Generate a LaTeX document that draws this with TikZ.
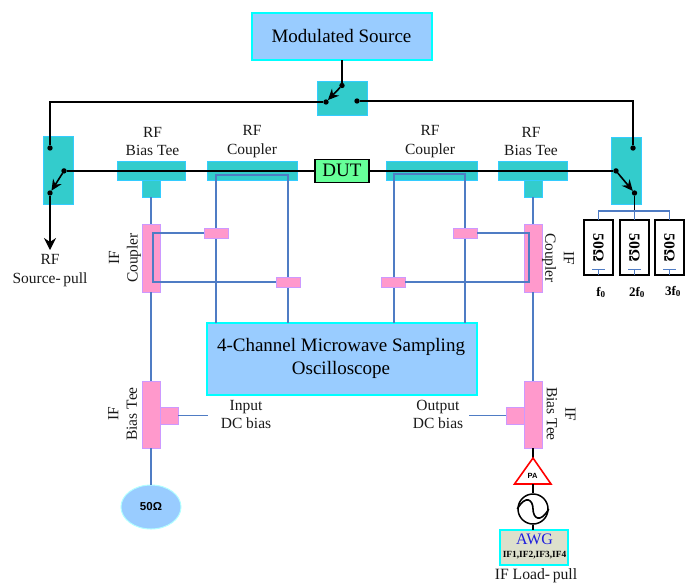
\documentclass[tikz,border=0pt]{standalone}
\usepackage{fontspec}
\setmainfont{Liberation Serif}
\newfontfamily\sansf{Liberation Sans}
\usetikzlibrary{arrows.meta,shapes.geometric}
\definecolor{teal1}{HTML}{33CCCC}
\definecolor{tealb}{HTML}{33CCFF}
\definecolor{pink1}{HTML}{FF99CC}
\definecolor{pinkb}{HTML}{CC99FF}
\definecolor{sky}{HTML}{99CCFF}
\definecolor{cyanb}{HTML}{00FFFF}
\definecolor{wire}{HTML}{4F7CC4}
\definecolor{dut}{HTML}{66FF99}
\definecolor{awg}{HTML}{DDE0CC}
\tikzset{
  base/.style={rectangle,inner sep=0pt,outer sep=0pt,line width=0.9pt},
  tealbox/.style={base,fill=teal1,draw=tealb},
  pinkbox/.style={base,fill=pink1,draw=pinkb},
  skybox/.style={base,fill=sky,draw=cyanb,line width=1.4pt,align=center},
  resbox/.style={base,fill=white,draw=black,line width=1.4pt},
  dot/.style={circle,fill=black,inner sep=0pt,minimum size=5.4pt,outer sep=0pt},
  bk/.style={black,line width=1.6pt},
  bw/.style={wire,line width=1.4pt},
  arr/.style={bk,-{Stealth[length=11pt,width=10pt]}},
  lbl/.style={font=\fontsize{15.5}{17}\selectfont,align=center,inner sep=0pt,text=black!90},
  rl/.style={lbl,rotate=90},
  rr/.style={lbl,rotate=-90},
  fl/.style={font=\bfseries\fontsize{13}{15}\selectfont,inner sep=0pt}
}
\newcommand{\rectn}[6]{%
  \pgfmathsetmacro{\cxx}{(#3+#5)/2}\pgfmathsetmacro{\cyy}{(#4+#6)/2}%
  \pgfmathsetmacro{\ww}{#5-#3}\pgfmathsetmacro{\hh}{#6-#4}%
  \node[#1,minimum width=\ww pt,minimum height=\hh pt] (#2) at (\cxx,\cyy) {};}
\begin{document}
\begin{tikzpicture}[x=1pt,y=-1pt]
\useasboundingbox (0,0) rectangle (692,584);
% coupler bodies
\rectn{tealbox}{cpl}{207}{161}{297}{180}
\rectn{tealbox}{cpr}{386}{161}{477}{180}
\rectn{tealbox}{btl}{117}{161}{185}{180}
\rectn{tealbox}{btr}{498}{161}{567}{180}
\rectn{tealbox}{btls}{142}{180}{160}{197}
\rectn{tealbox}{btrs}{524}{180}{542}{197}
\rectn{tealbox}{swt}{317}{81}{367}{115}
\rectn{tealbox}{swl}{43}{136}{73}{204}
\rectn{tealbox}{swr}{611}{137}{641}{204}
% sampling scope
\rectn{skybox}{osc}{207}{323}{477}{395}
\node[font=\fontsize{19}{23}\selectfont,align=center,inner sep=0pt] (osct) at (341,358.5) {4-Channel Microwave Sampling\\Oscilloscope};
% coupler wires
\coordinate (a1) at (216,175);
\coordinate (a2) at (288,175);
\coordinate (b1) at (394,174);
\coordinate (b2) at (465,174);
\draw[bw] (a1 |- osc.north) -- (a1) -- (a2) -- (a2 |- osc.north);
\draw[bw] (b1 |- osc.north) -- (b1) -- (b2) -- (b2 |- osc.north);
% small couplers
\rectn{pinkbox}{s1}{204}{228}{228}{238}
\rectn{pinkbox}{s2}{276}{277}{300}{287}
\rectn{pinkbox}{s3}{453}{228}{477}{238}
\rectn{pinkbox}{s4}{381}{277}{405}{287}
% IF couplers / tees
\rectn{pinkbox}{ifl}{142}{224}{160}{292}
\rectn{pinkbox}{ifr}{524}{224}{542}{292}
\rectn{pinkbox}{itl}{142}{381}{160}{448}
\rectn{pinkbox}{itr}{524}{381}{542}{448}
\rectn{pinkbox}{itls}{160}{407}{178}{424}
\rectn{pinkbox}{itrs}{506}{407}{524}{424}
\coordinate (li) at (153,233);
\coordinate (ri) at (529,233);
\draw[bw] (s1.west) -- (s1.west -| li) -- (li |- s2.west) -- (s2.west);
\draw[bw] (s3.east) -- (s3.east -| ri) -- (ri |- s4.east) -- (s4.east);
\draw[bw] (btls.south) -- (ifl.north);
\draw[bw] (btrs.south) -- (ifr.north);
\draw[bw] (ifl.south) -- (itl.north);
\draw[bw] (ifr.south) -- (itr.north);
% bias ends
\node[lbl] (inb) at (246,414.5) {Input\\[1.5pt]DC bias};
\node[lbl] (outb) at (438,414.5) {Output\\[1.5pt]DC bias};
\coordinate (ine) at (208,415.5);
\coordinate (oute) at (469,415.5);
\draw[bw] (itls.east) -- (ine);
\draw[bw] (itrs.west) -- (oute);
% 50 ohm ellipse
\node[ellipse,fill=sky,draw=cyanb!30!white,line width=1pt,minimum width=60pt,minimum height=44pt,inner sep=0pt,font=\sansf\bfseries\fontsize{11.5}{13}\selectfont] (load) at (151,507) {50Ω};
\draw[bw] (itl.south) -- (load.north);
% top box
\rectn{skybox}{ms}{252}{13}{432}{60}
\node[font=\fontsize{19}{21}\selectfont,inner sep=0pt] (mst) at (341.5,36) {Modulated Source};
% DUT
\rectn{base,fill=dut,draw=black,line width=1.4pt}{dutb}{315}{159.4}{369}{182.4}
\node[font=\fontsize{19}{21}\selectfont,inner sep=0pt] (dutt) at (342,170.5) {DUT};
% switch contacts
\node[dot] (t1) at (342,85.5) {};
\node[dot] (t2) at (326,102) {};
\node[dot] (t3) at (357,101) {};
\node[dot] (l1) at (50,148) {};
\node[dot] (l2) at (64,170.9) {};
\node[dot] (l3) at (50,193) {};
\node[dot] (r1) at (633,148) {};
\node[dot] (r2) at (616,170.9) {};
\node[dot] (r3) at (634.5,193) {};
\draw[bk] (ms.south -| t1) -- (t1);
\draw[arr] (t1) -- (t2);
\draw[arr] (l2) -- (l3);
\draw[arr] (r2) -- (r3);
\draw[bk] (t2) -| (l1);
\draw[bk] (t3) -| (r1);
\draw[bk] (l2) -- (dutb.west);
\draw[bk] (dutb.east) -- (r2);
\coordinate (spe) at (50,250);
\draw[bk,-{Stealth[length=12pt,width=12pt]}] (l3) -- (spe);
\node[lbl] (spt) at (50,270.5) {RF\\[1.5pt]Source-\,pull};
% load bus
\coordinate (bus) at (634.5,211);
\rectn{resbox}{r50a}{584}{220}{613}{275}
\rectn{resbox}{r50b}{620}{220}{649}{275}
\rectn{resbox}{r50c}{655}{220}{684}{275}
\draw[bk] (r3) -- (bus);
\draw[bw] (r50a.north) -- (r50a.north |- bus) -- (r50c.north |- bus) -- (r50c.north);
\draw[bw] (bus) -- (r50b.north);
\foreach \n in {a,b,c}{
  \node[rr,font=\bfseries\fontsize{15.5}{17}\selectfont,text=black] (t\n) at (r50\n) {50Ω};
  \coordinate (g\n) at ([yshift=5.5pt]r50\n.south);
  \draw[bw] (r50\n.south) -- (g\n);
  \draw[bw] ([xshift=-6.5pt]g\n) -- ([xshift=6.5pt]g\n);
}
\node[fl] (f1) at (601,292.5) {f\textsubscript{0}};
\node[fl] (f2) at (637,292.5) {2f\textsubscript{0}};
\node[fl] (f3) at (673,291.5) {3f\textsubscript{0}};
% RF labels
\node[lbl] (la) at (152.5,141.5) {RF\\[1.5pt]Bias Tee};
\node[lbl] (lb) at (252,141.5) {RF\\[1.5pt]Coupler};
\node[lbl] (lc) at (430,141.5) {RF\\[1.5pt]Coupler};
\node[lbl] (ld) at (531,141.5) {RF\\[1.5pt]Bias Tee};
% IF labels
\node[rl] (le) at (125,258) {IF\\[1.5pt]Coupler};
\node[rr] (lf) at (558,258) {IF\\[1.5pt]Coupler};
\node[rl] (lg) at (122.5,414) {IF\\[1.5pt]Bias Tee};
\node[rr] (lh) at (561,414) {IF\\[1.5pt]Bias Tee};
% PA chain
\coordinate (pat) at (533,458);
\coordinate (pal) at (514.5,484);
\coordinate (par) at (551,484);
\coordinate (pab) at (533,484);
\draw[bk] (itr.south) -- (pat);
\draw[red,line width=1.6pt,line join=miter,fill=white] (pat) -- (par) -- (pal) -- cycle;
\node[font=\sansf\bfseries\fontsize{7.5}{9}\selectfont,inner sep=0pt] (pat2) at (532.5,475.5) {PA};
\node[circle,draw=black,line width=1.5pt,minimum size=30pt,inner sep=0pt] (gen) at (533,509) {};
\draw[bk] (pab) -- (gen.north);
\draw[bk] (gen.west) .. controls (526,494) and (533,500) .. (gen.center) .. controls (533,518) and (540,524) .. (gen.east);
\rectn{base,fill=awg,draw=cyanb,line width=1.1pt}{awgb}{500}{530}{568}{565}
\draw[bk] (gen.south) -- (awgb.north -| gen.south);
\node[font=\fontsize{16}{18}\selectfont,text={rgb,255:red,30;green,30;blue,220},inner sep=0pt] (awgt) at (534.5,539.5) {AWG};
\node[font=\bfseries\fontsize{9.4}{11}\selectfont,inner sep=0pt] (awgs) at (534.5,555.5) {IF1,IF2,IF3,IF4};
\node[lbl,font=\fontsize{15.7}{17}\selectfont] (iflp) at (536,576) {IF Load-\,pull};
\end{tikzpicture}
\end{document}
